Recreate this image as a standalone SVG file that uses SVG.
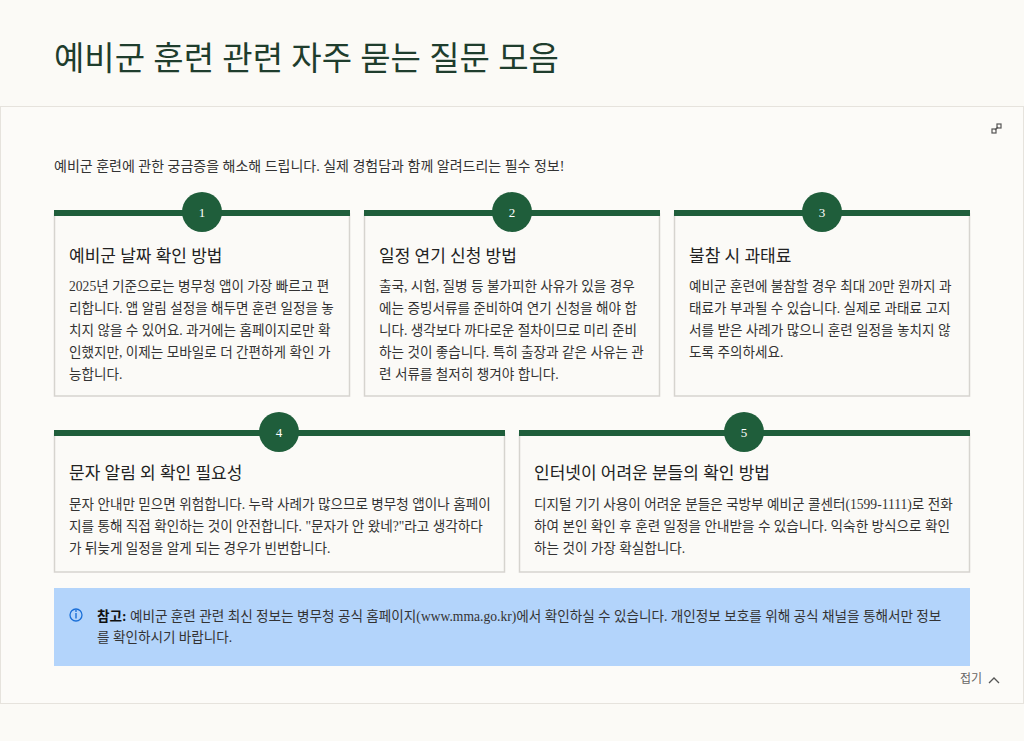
<svg xmlns="http://www.w3.org/2000/svg" width="1024" height="741" viewBox="0 0 1024 741">
<style>
text{font-family:"Liberation Serif","Noto Sans CJK KR",serif;fill:#2b2b2b}
.h{font-size:33px;fill:#1f3d2d}
.sub{font-size:14px;fill:#333}
.card{fill:#fbfaf7;stroke:#d6d4cf;stroke-width:1.5}
.bar{fill:#1f5e3b}
.circ{fill:#1f5e3b}
.num{font-size:13px;fill:#fff;text-anchor:middle}
.t{font-size:17px;fill:#222}
.b{font-size:13.6px;fill:#333}
</style>
<rect width="1024" height="741" fill="#fbfaf6"/>
<text class="h" x="54" y="70">예비군 훈련 관련 자주 묻는 질문 모음</text>
<rect x="0.5" y="106.5" width="1023" height="597" fill="#fcfbf8" stroke="#e6e3dd"/>
<g id="expand" stroke="#555" stroke-width="1.2" fill="none"><rect x="992" y="129" width="4" height="4"/><rect x="997" y="124" width="4" height="4"/><line x1="995" y1="130" x2="998" y2="127"/></g>
<text class="sub" x="54" y="171">예비군 훈련에 관한 궁금증을 해소해 드립니다. 실제 경험담과 함께 알려드리는 필수 정보!</text>
<g id="card1"><rect class="card" x="54.5" y="214" width="295" height="182"/><rect class="bar" x="54" y="210" width="296" height="6"/><circle class="circ" cx="202" cy="212" r="20"/><text class="num" x="202" y="217">1</text>
<text class="t" x="69" y="262">예비군 날짜 확인 방법</text>
<text class="b" x="69" y="291">2025년 기준으로는 병무청 앱이 가장 빠르고 편</text><text class="b" x="69" y="313">리합니다. 앱 알림 설정을 해두면 훈련 일정을 놓</text><text class="b" x="69" y="335">치지 않을 수 있어요. 과거에는 홈페이지로만 확</text><text class="b" x="69" y="357">인했지만, 이제는 모바일로 더 간편하게 확인 가</text><text class="b" x="69" y="379">능합니다.</text></g>
<g id="card2"><rect class="card" x="364.5" y="214" width="295" height="182"/><rect class="bar" x="364" y="210" width="296" height="6"/><circle class="circ" cx="512" cy="212" r="20"/><text class="num" x="512" y="217">2</text>
<text class="t" x="379" y="262">일정 연기 신청 방법</text>
<text class="b" x="379" y="291">출국, 시험, 질병 등 불가피한 사유가 있을 경우</text><text class="b" x="379" y="313">에는 증빙서류를 준비하여 연기 신청을 해야 합</text><text class="b" x="379" y="335">니다. 생각보다 까다로운 절차이므로 미리 준비</text><text class="b" x="379" y="357">하는 것이 좋습니다. 특히 출장과 같은 사유는 관</text><text class="b" x="379" y="379">련 서류를 철저히 챙겨야 합니다.</text></g>
<g id="card3"><rect class="card" x="674.5" y="214" width="295" height="182"/><rect class="bar" x="674" y="210" width="296" height="6"/><circle class="circ" cx="822" cy="212" r="20"/><text class="num" x="822" y="217">3</text>
<text class="t" x="689" y="262">불참 시 과태료</text>
<text class="b" x="689" y="291">예비군 훈련에 불참할 경우 최대 20만 원까지 과</text><text class="b" x="689" y="313">태료가 부과될 수 있습니다. 실제로 과태료 고지</text><text class="b" x="689" y="335">서를 받은 사례가 많으니 훈련 일정을 놓치지 않</text><text class="b" x="689" y="357">도록 주의하세요.</text></g>
<g id="card4"><rect class="card" x="54.5" y="434" width="450" height="138"/><rect class="bar" x="54" y="430" width="451" height="6"/><circle class="circ" cx="279" cy="432" r="20"/><text class="num" x="279" y="437">4</text>
<text class="t" x="69" y="479">문자 알림 외 확인 필요성</text>
<text class="b" x="69" y="509">문자 안내만 믿으면 위험합니다. 누락 사례가 많으므로 병무청 앱이나 홈페이</text><text class="b" x="69" y="531">지를 통해 직접 확인하는 것이 안전합니다. "문자가 안 왔네?"라고 생각하다</text><text class="b" x="69" y="553">가 뒤늦게 일정을 알게 되는 경우가 빈번합니다.</text></g>
<g id="card5"><rect class="card" x="519.5" y="434" width="450" height="138"/><rect class="bar" x="519" y="430" width="451" height="6"/><circle class="circ" cx="744" cy="432" r="20"/><text class="num" x="744" y="437">5</text>
<text class="t" x="534" y="479">인터넷이 어려운 분들의 확인 방법</text>
<text class="b" x="534" y="509">디지털 기기 사용이 어려운 분들은 국방부 예비군 콜센터(1599-1111)로 전화</text><text class="b" x="534" y="531">하여 본인 확인 후 훈련 일정을 안내받을 수 있습니다. 익숙한 방식으로 확인</text><text class="b" x="534" y="553">하는 것이 가장 확실합니다.</text></g>
<g id="note"><rect x="54" y="588" width="916" height="78" fill="#b3d4fb"/>
<circle cx="76" cy="615" r="6" fill="none" stroke="#1a6fd8" stroke-width="1.3"/><line x1="76" y1="613" x2="76" y2="618.5" stroke="#1a6fd8" stroke-width="1.4"/><circle cx="76" cy="611" r="0.9" fill="#1a6fd8"/>
<text class="b" x="97" y="621"><tspan font-weight="bold" fill="#111">참고:</tspan> 예비군 훈련 관련 최신 정보는 병무청 공식 홈페이지(www.mma.go.kr)에서 확인하실 수 있습니다. 개인정보 보호를 위해 공식 채널을 통해서만 정보</text>
<text class="b" x="97" y="642">를 확인하시기 바랍니다.</text></g>
<g id="collapse"><text x="960" y="683" font-size="12" style="fill:#666">접기</text><polyline points="989,683 994,678 999,683" fill="none" stroke="#555" stroke-width="1.3"/></g>
</svg>
